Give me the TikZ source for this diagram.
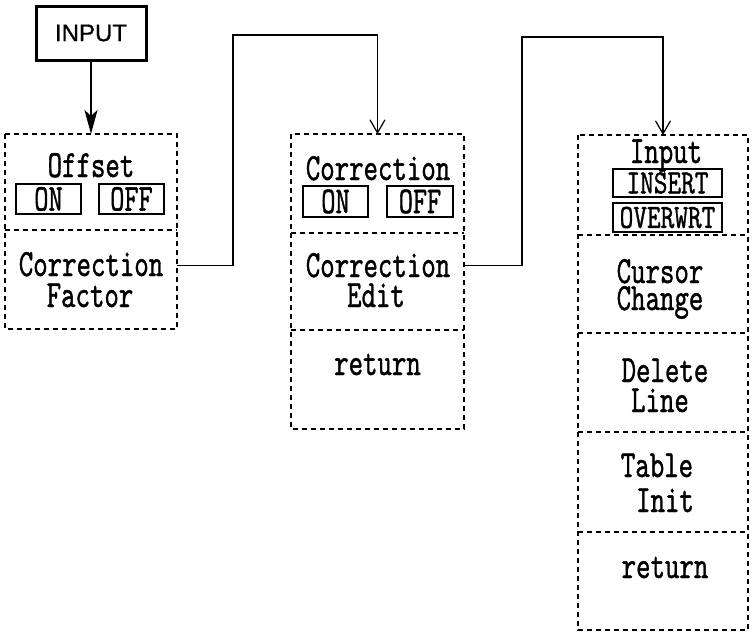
\documentclass[tikz,border=0pt]{standalone}
\usepackage{fontspec}
\usepackage{graphicx}
\usetikzlibrary{arrows.meta}
\newfontfamily\inputfont[FakeBold=0.8]{Liberation Sans}
\newfontfamily\tfont[FakeBold=1.2]{lmmono10-regular.otf}
\newcommand{\Tx}[1]{\scalebox{1}[1.4]{#1}}
\newcommand{\Ts}[1]{\scalebox{1}[1.3]{#1}}
\begin{document}
\begin{tikzpicture}[x=1pt,y=-1pt,
  sect/.style={inner sep=0pt, outer sep=0pt},
  dline/.style={line width=1.3pt, dash pattern=on 5pt off 4pt},
  btn/.style={draw, line width=1.2pt, inner sep=0pt, outer sep=0pt, font=\tfont\fontsize{27}{27}\selectfont},
  sbtn/.style={btn, font=\tfont\fontsize{26}{26}\selectfont},
  lbl/.style={anchor=base, inner sep=0pt, font=\tfont\fontsize{27.5}{27.5}\selectfont},
  conn/.style={line width=1.2pt, -{Straight Barb[length=13pt,width=15pt,line width=1.2pt]}},
  mainarrow/.style={line width=2.4pt, -{Stealth[length=24pt,width=13pt,inset=6pt]}},
  inputbox/.style={draw, line width=3pt, minimum width=110pt, minimum height=54pt, inner sep=0pt, font=\inputfont\fontsize{24}{24}\selectfont}
]
\useasboundingbox (0,0) rectangle (752,635);

% INPUT
\node[inputbox] (inp) at (91,33) {INPUT};

% Box 1 sections
\node[sect, minimum width=172pt, minimum height=96pt] (b1a) at (91,182) {};
\node[sect, minimum width=172pt, minimum height=99pt] (b1b) at (91,279.5) {};
\draw[dline] (b1a.north west) rectangle (b1b.south east);
\draw[dline] (b1a.south west) -- (b1a.south east);

% Box 2 sections
\node[sect, minimum width=173pt, minimum height=99pt] (b2a) at (377.5,183.5) {};
\node[sect, minimum width=173pt, minimum height=97pt] (b2b) at (377.5,281.5) {};
\node[sect, minimum width=173pt, minimum height=99pt] (b2c) at (377.5,379.5) {};
\draw[dline] (b2a.north west) rectangle (b2c.south east);
\draw[dline] (b2a.south west) -- (b2a.south east);
\draw[dline] (b2b.south west) -- (b2b.south east);

% Box 3 sections
\node[sect, minimum width=170pt, minimum height=100pt] (b3a) at (663,185) {};
\node[sect, minimum width=170pt, minimum height=98pt] (b3b) at (663,284) {};
\node[sect, minimum width=170pt, minimum height=99pt] (b3c) at (663,382.5) {};
\node[sect, minimum width=170pt, minimum height=100pt] (b3d) at (663,482) {};
\node[sect, minimum width=170pt, minimum height=98pt] (b3e) at (663,581) {};
\draw[dline] (b3a.north west) rectangle (b3e.south east);
\draw[dline] (b3a.south west) -- (b3a.south east);
\draw[dline] (b3b.south west) -- (b3b.south east);
\draw[dline] (b3c.south west) -- (b3c.south east);
\draw[dline] (b3d.south west) -- (b3d.south east);

% Box 1 content
\node[lbl] (l1a) at (91,177) {\Tx{Offset}};
\node[btn, minimum width=65pt, minimum height=30pt] (on1) at (48.5,199) {\Tx{ON}};
\node[btn, minimum width=65pt, minimum height=30pt] (off1) at (131.5,199) {\Tx{OFF}};
\node[lbl] (l1b) at (91,276) {\Tx{Correction}};
\node[lbl] (l1c) at (90,307) {\Tx{Factor}};

% Box 2 content
\node[lbl] (l2a) at (378,180) {\Tx{Correction}};
\node[btn, minimum width=65pt, minimum height=31pt] (on2) at (335.5,201.5) {\Tx{ON}};
\node[btn, minimum width=66pt, minimum height=31pt] (off2) at (420,201.5) {\Tx{OFF}};
\node[lbl] (l2b) at (378,277) {\Tx{Correction}};
\node[lbl] (l2c) at (376,307) {\Tx{Edit}};
\node[lbl] (l2d) at (377.5,375) {\Tx{return}};

% Box 3 content
\node[lbl] (l3a) at (666,163) {\Tx{Input}};
\node[sbtn, minimum width=109pt, minimum height=28pt] (ins) at (667.5,183) {\Ts{INSERT}};
\node[sbtn, minimum width=109pt, minimum height=29pt] (ovw) at (667.5,217.5) {\Ts{OVERWRT}};
\node[lbl] (l3b) at (660,283) {\Tx{Cursor}};
\node[lbl] (l3c) at (660,310) {\Tx{Change}};
\node[lbl] (l3d) at (665,382) {\Tx{Delete}};
\node[lbl] (l3e) at (660,412) {\Tx{Line}};
\node[lbl] (l3f) at (657,477) {\Tx{Table}};
\node[lbl] (l3g) at (665,512) {\Tx{Init}};
\node[lbl] (l3h) at (665,578) {\Tx{return}};

% connectors
\draw[mainarrow] (inp.south) -- (b1a.north);
\coordinate (s1) at ([yshift=14pt]b1b.east);
\coordinate (k1) at (233,35);
\draw[conn] (s1) -| (k1) -| (b2a.north);
\coordinate (s2) at (b2b.east |- s1);
\coordinate (k2) at (522,37);
\draw[conn] (s2) -| (k2) -| (b3a.north);
\end{tikzpicture}
\end{document}
